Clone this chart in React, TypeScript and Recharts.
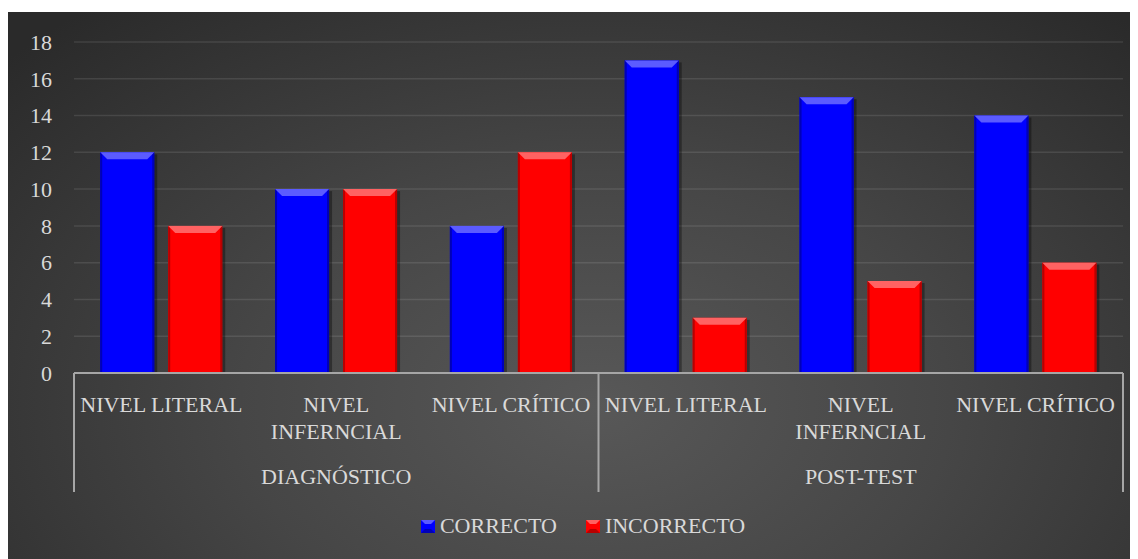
import React from "react";
import { BarChart, Bar, XAxis, YAxis, CartesianGrid, Legend } from "recharts";

const groups = ["DIAGNÓSTICO", "DIAGNÓSTICO", "DIAGNÓSTICO", "POST-TEST", "POST-TEST", "POST-TEST"];
const levels = ["NIVEL LITERAL", "NIVEL INFERNCIAL", "NIVEL CRÍTICO", "NIVEL LITERAL", "NIVEL INFERNCIAL", "NIVEL CRÍTICO"];
const correcto = [12, 10, 8, 17, 15, 14];
const incorrecto = [8, 10, 12, 3, 5, 6];
const yTicks = [0, 2, 4, 6, 8, 10, 12, 14, 16, 18];

const data = levels.map((nivel, i) => ({
  key: `${groups[i]}-${i}`,
  nivel,
  grupo: groups[i],
  correcto: correcto[i],
  incorrecto: incorrecto[i],
}));

const W = 1130;
const H = 547;
const MARGIN = { top: 30, right: 15, left: 16, bottom: 56 };
const Y_WIDTH = 50;
const PLOT_W = W - MARGIN.left - MARGIN.right - Y_WIDTH;
const FONT = "'Liberation Serif', 'Times New Roman', serif";
const TEXT = "#d9d9d9";
const LINE = "#a6a6a6";

const BLUE = { base: "#0000ff", light: "#5b5bff", dark: "#0000b8" };
const RED = { base: "#ff0000", light: "#ff6262", dark: "#b80000" };

// bar with the bevelled top look from the spreadsheet chart
const bevel = (c: { base: string; light: string; dark: string }) => (props: any) => {
  const { x, y, width, height } = props;
  if (!height || height <= 0) return null;
  const b = Math.min(7, height / 2);
  return (
    <g>
      <rect x={x + 3} y={y + 2} width={width} height={height - 2} fill="#000" opacity={0.35} />
      <rect x={x} y={y} width={width} height={height} fill={c.base} />
      <rect x={x} y={y} width={2} height={height} fill={c.dark} />
      <rect x={x + width - 2} y={y} width={2} height={height} fill={c.dark} />
      <polygon
        points={`${x},${y} ${x + width},${y} ${x + width - b},${y + b} ${x + b},${y + b}`}
        fill={c.light}
      />
    </g>
  );
};

const XTick = (props: any) => {
  const { x, y, payload } = props;
  const i = payload.index;
  const band = PLOT_W / data.length;
  const label: string = levels[i];
  const lines = label.length > 14 ? label.split(" ") : [label];
  const lineLen = 119;
  const vlines: number[] = [];
  if (i === 0 || groups[i] !== groups[i - 1]) vlines.push(x - band / 2);
  if (i === data.length - 1) vlines.push(x + band / 2);
  const isMid = groups[i] === groups[i - 1] && groups[i] === groups[i + 1];
  return (
    <g>
      {lines.map((t, k) => (
        <text
          key={k}
          x={x}
          y={y + 39 + k * 27}
          textAnchor="middle"
          fill={TEXT}
          fontSize={22}
          fontFamily={FONT}
        >
          {t}
        </text>
      ))}
      {isMid && (
        <text x={x} y={y + 111} textAnchor="middle" fill={TEXT} fontSize={22} fontFamily={FONT}>
          {groups[i]}
        </text>
      )}
      {vlines.map((vx, k) => (
        <line key={k} x1={vx} x2={vx} y1={y} y2={y + lineLen} stroke={LINE} strokeWidth={2} />
      ))}
    </g>
  );
};

const LegendSwatch = ({ c }: { c: { base: string; light: string; dark: string } }) => (
  <svg width={14} height={13} style={{ display: "block" }}>
    <rect width={14} height={13} fill={c.base} />
    <polygon points="0,0 14,0 10,4 4,4" fill={c.light} />
    <polygon points="0,13 14,13 10,9 4,9" fill={c.dark} />
  </svg>
);

const renderLegend = () => (
  <div
    style={{
      display: "flex",
      justifyContent: "center",
      alignItems: "center",
      paddingLeft: 20,
      fontFamily: FONT,
      fontSize: 22,
      color: TEXT,
    }}
  >
    <div style={{ display: "flex", alignItems: "center", gap: 5, marginRight: 29 }}>
      <LegendSwatch c={BLUE} />
      <span>CORRECTO</span>
    </div>
    <div style={{ display: "flex", alignItems: "center", gap: 5 }}>
      <LegendSwatch c={RED} />
      <span>INCORRECTO</span>
    </div>
  </div>
);

export default function App() {
  return (
    <div
      style={{
        marginTop: 4,
        width: W,
        height: H,
        background:
          "radial-gradient(ellipse 70% 95% at 52% 72%, #585858 0%, #464646 45%, #2a2a2a 100%)",
      }}
    >
      <BarChart
        width={W}
        height={H}
        data={data}
        margin={MARGIN}
        barCategoryGap="15%"
        barGap={14}
      >
        <CartesianGrid
          vertical={false}
          stroke="rgba(255,255,255,0.1)"
          strokeWidth={1.5}
        />
        <XAxis
          dataKey="key"
          interval={0}
          height={130}
          tickLine={false}
          tickSize={0}
          tickMargin={0}
          axisLine={{ stroke: LINE, strokeWidth: 2 }}
          tick={<XTick />}
        />
        <YAxis
          width={Y_WIDTH}
          domain={[0, 18]}
          ticks={yTicks}
          axisLine={false}
          tickLine={false}
          tickSize={0}
          tickMargin={22}
          tick={{ fill: TEXT, fontSize: 22, fontFamily: FONT }}
        />
        <Legend
          verticalAlign="middle"
          align="center"
          layout="horizontal"
          content={renderLegend}
          wrapperStyle={{ top: 501, left: 0, width: W }}
        />
        <Bar dataKey="correcto" name="CORRECTO" fill={BLUE.base} shape={bevel(BLUE)} isAnimationActive={false} />
        <Bar dataKey="incorrecto" name="INCORRECTO" fill={RED.base} shape={bevel(RED)} isAnimationActive={false} />
      </BarChart>
    </div>
  );
}
